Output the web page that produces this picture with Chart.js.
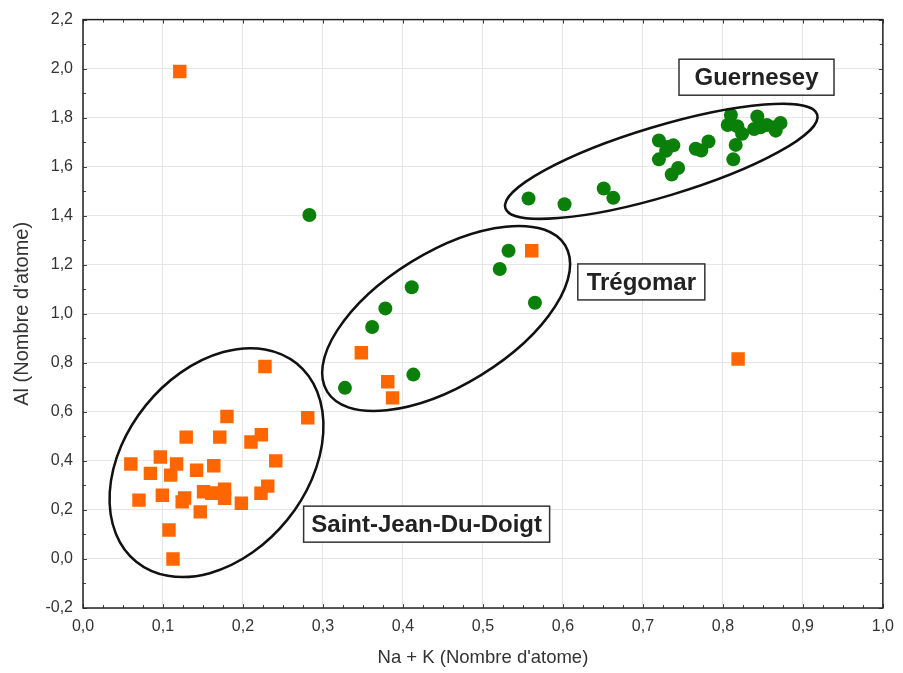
<!DOCTYPE html>
<html>
<head>
<meta charset="utf-8">
<script src="https://cdn.jsdelivr.net/npm/chart.js@4/dist/chart.umd.min.js"></script>
<style>
  html, body { margin: 0; padding: 0; background: #fff; }
  #box { width: 903px; height: 673px; }
</style>
</head>
<body>
<div id="box"><canvas id="graphe"></canvas></div>
<script>
// Données
const vertX = [0.532, 0.521, 0.565, 0.411, 0.378, 0.3615, 0.413, 0.3275, 0.283,
  0.557, 0.602, 0.651, 0.663, 0.720, 0.720, 0.731, 0.738, 0.729, 0.736, 0.744,
  0.766, 0.773, 0.782, 0.810, 0.806, 0.818, 0.824, 0.816, 0.813, 0.843, 0.839,
  0.847, 0.864, 0.872, 0.866, 0.855];
const vertY = [1.257, 1.183, 1.045, 1.108, 1.022, 0.946, 0.752, 0.698, 1.403,
  1.470, 1.447, 1.511, 1.473, 1.707, 1.630, 1.680, 1.687, 1.665, 1.568, 1.595,
  1.673, 1.666, 1.703, 1.811, 1.770, 1.765, 1.734, 1.689, 1.630, 1.805, 1.754,
  1.761, 1.761, 1.778, 1.747, 1.770];

const orangeX = [0.2275, 0.180, 0.281, 0.129, 0.171, 0.223, 0.210, 0.0598, 0.0967,
  0.117, 0.1096, 0.0843, 0.142, 0.1635, 0.241, 0.070, 0.0992, 0.127, 0.124, 0.1507,
  0.161, 0.177, 0.177, 0.1685, 0.198, 0.231, 0.2225, 0.1466, 0.1075, 0.1125,
  0.121, 0.819, 0.561, 0.348, 0.381, 0.387];
const orangeY = [0.785, 0.581, 0.576, 0.497, 0.497, 0.507, 0.477, 0.387, 0.416,
  0.387, 0.342, 0.349, 0.362, 0.380, 0.400, 0.240, 0.260, 0.249, 0.233, 0.274,
  0.268, 0.284, 0.248, 0.268, 0.227, 0.297, 0.268, 0.192, 0.118, 0.000,
  1.988, 0.816, 1.257, 0.841, 0.723, 0.657];

// Groupes (ellipses) et étiquettes
const groupes = [
  { cx: 0.1669, cy: 0.393, a: 127.5, b: 91, angle: 51 },
  { cx: 0.454, cy: 0.981, a: 139.7, b: 66.5, angle: 31.6 },
  { cx: 0.723, cy: 1.622, a: 162.8, b: 35, angle: 16.7 }
];
const etiquettes = ["Saint-Jean-Du-Doigt", "Trégomar", "Guernesey"];
const etiquetteX = [0.4296, 0.698, 0.842];
const etiquetteY = [0.142, 1.130, 1.965];
const largeurCadre = [246, 127, 155];

function virgule(v) {
  return Number(v).toFixed(1).replace('.', ',').replace('-0,0', '0,0');
}

// Cadre, petites graduations, ellipses et étiquettes
const decor = {
  id: 'decor',
  afterDraw(chart) {
    const ctx = chart.ctx;
    const area = chart.chartArea;
    const sx = chart.scales.x, sy = chart.scales.y;
    ctx.save();

    // graduations vers l'intérieur
    ctx.strokeStyle = '#444';
    ctx.lineWidth = 1;
    ctx.beginPath();
    for (let i = 0; i <= 40; i++) {
      const px = Math.round(sx.getPixelForValue(i * 0.025)) + 0.5;
      const len = i % 4 === 0 ? 4 : 3;
      ctx.moveTo(px, area.bottom); ctx.lineTo(px, area.bottom - len);
      ctx.moveTo(px, area.top); ctx.lineTo(px, area.top + len);
    }
    for (let i = 0; i <= 24; i++) {
      const py = Math.round(sy.getPixelForValue(-0.2 + i * 0.1)) + 0.5;
      const len = i % 2 === 0 ? 4 : 3;
      ctx.moveTo(area.left, py); ctx.lineTo(area.left + len, py);
      ctx.moveTo(area.right, py); ctx.lineTo(area.right - len, py);
    }
    ctx.stroke();

    // cadre
    ctx.strokeStyle = '#222';
    ctx.lineWidth = 1.5;
    ctx.strokeRect(area.left, area.top, area.right - area.left, area.bottom - area.top);

    // ellipses
    ctx.strokeStyle = '#111';
    ctx.lineWidth = 2.5;
    groupes.forEach(g => {
      ctx.beginPath();
      ctx.ellipse(sx.getPixelForValue(g.cx), sy.getPixelForValue(g.cy), g.a, g.b,
        -g.angle * Math.PI / 180, 0, Math.PI * 2);
      ctx.stroke();
    });

    // étiquettes encadrées
    ctx.font = 'bold 24px "Liberation Sans", Arial, sans-serif';
    ctx.textAlign = 'center';
    ctx.textBaseline = 'middle';
    etiquettes.forEach((t, i) => {
      const px = sx.getPixelForValue(etiquetteX[i]);
      const py = sy.getPixelForValue(etiquetteY[i]);
      const w = largeurCadre[i];
      const h = 36;
      ctx.fillStyle = '#fff';
      ctx.fillRect(px - w / 2, py - h / 2, w, h);
      ctx.strokeStyle = '#333';
      ctx.lineWidth = 1.5;
      ctx.strokeRect(px - w / 2, py - h / 2, w, h);
      ctx.fillStyle = '#222';
      ctx.fillText(t, px, py + 1);
    });
    ctx.restore();
  }
};

const ctx = document.getElementById('graphe').getContext('2d');
const chart = new Chart(ctx, {
  type: 'scatter',
  data: {
    datasets: [{
      label: 'Vert',
      data: vertX.map((x, i) => ({ x: x, y: vertY[i] })),
      pointStyle: 'circle',
      pointRadius: 7,
      pointHoverRadius: 7,
      backgroundColor: '#0a800a',
      borderWidth: 0
    }, {
      label: 'Orange',
      data: orangeX.map((x, i) => ({ x: x, y: orangeY[i] })),
      pointStyle: 'rect',
      pointRadius: 9.5,
      pointHoverRadius: 9.5,
      backgroundColor: '#ff6600',
      borderWidth: 0
    }]
  },
  options: {
    responsive: true,
    maintainAspectRatio: false,
    animation: false,
    layout: { padding: { left: 0, right: 17, top: 17, bottom: 0 } },
    plugins: {
      legend: { display: false },
      tooltip: { enabled: false }
    },
    scales: {
      x: {
        type: 'linear',
        min: 0, max: 1,
        ticks: {
          stepSize: 0.1,
          padding: 9,
          color: '#333',
          font: { size: 16, family: '"Liberation Sans", Arial, sans-serif' },
          callback: v => virgule(v)
        },
        grid: { color: '#e6e6e6', drawTicks: false },
        border: { display: false },
        title: {
          display: true,
          text: 'Na + K (Nombre d\'atome)',
          color: '#333',
          font: { size: 18.5, family: '"Liberation Sans", Arial, sans-serif' },
          padding: { top: 0 }
        },
        afterFit(scale) { scale.height = 65; }
      },
      y: {
        type: 'linear',
        min: -0.2, max: 2.2,
        ticks: {
          stepSize: 0.2,
          padding: 10,
          color: '#333',
          font: { size: 16, family: '"Liberation Sans", Arial, sans-serif' },
          callback: v => virgule(v)
        },
        grid: { color: '#e6e6e6', drawTicks: false },
        border: { display: false },
        title: {
          display: true,
          text: 'Al (Nombre d\'atome)',
          color: '#333',
          font: { size: 20, family: '"Liberation Sans", Arial, sans-serif' },
          padding: { top: 10 }
        },
        afterFit(scale) { scale.width = 83; }
      }
    }
  },
  plugins: [decor]
});
</script>
</body>
</html>
